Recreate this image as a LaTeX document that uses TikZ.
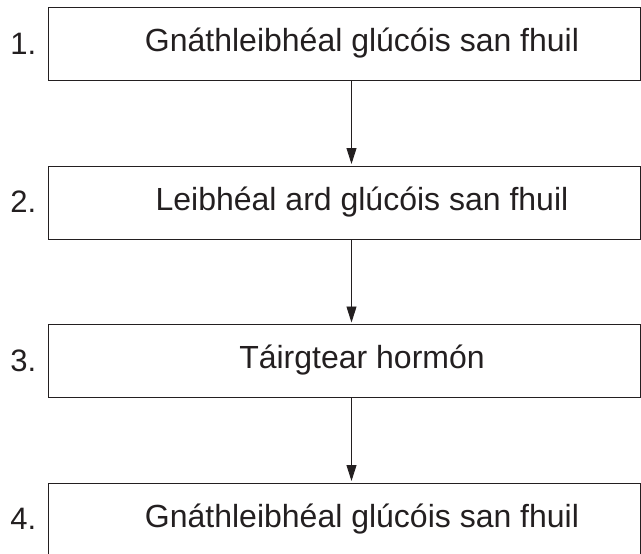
\documentclass[tikz,border=0pt]{standalone}
\usepackage{fontspec}
\setmainfont{Liberation Sans}
\usetikzlibrary{arrows.meta}
\definecolor{ink}{HTML}{231F20}
\begin{document}
\begin{tikzpicture}[x=1pt,y=-1pt,
  stepbox/.style={draw=ink,line width=1pt,rectangle,inner sep=0pt,minimum width=592pt,minimum height=73pt,anchor=north west},
  lbl/.style={text=ink,font=\fontsize{32}{36}\selectfont,inner sep=0pt},
  num/.style={text=ink,font=\fontsize{31}{36}\selectfont,inner sep=0pt,anchor=east},
  conn/.style={draw=ink,line width=0.9pt,-{Triangle[length=16pt,width=10pt]},shorten >=1.5pt}]
\useasboundingbox (0,0) rectangle (641,554);
\node[stepbox] (b1) at (48,7) {};
\node[stepbox] (b2) at (48,165.5) {};
\node[stepbox] (b3) at (48,324) {};
\node[stepbox] (b4) at (48,482.5) {};
\coordinate (ax) at (351.5,0);
\node[lbl] (t1) at (362,43.5) {Gnáthleibhéal glúcóis san fhuil};
\node[lbl] (t2) at (362,202) {Leibhéal ard glúcóis san fhuil};
\node[lbl] (t3) at (362,360.5) {Táirgtear hormón};
\node[lbl] (t4) at (362,519) {Gnáthleibhéal glúcóis san fhuil};
\node[num] (n1) at (36.5,43.5) {1.};
\node[num] (n2) at (36.5,202) {2.};
\node[num] (n3) at (36.5,360.5) {3.};
\node[num] (n4) at (36.5,519) {4.};
\draw[conn] (b1.south -| ax) -- (b2.north -| ax);
\draw[conn] (b2.south -| ax) -- (b3.north -| ax);
\draw[conn] (b3.south -| ax) -- (b4.north -| ax);
\end{tikzpicture}
\end{document}
